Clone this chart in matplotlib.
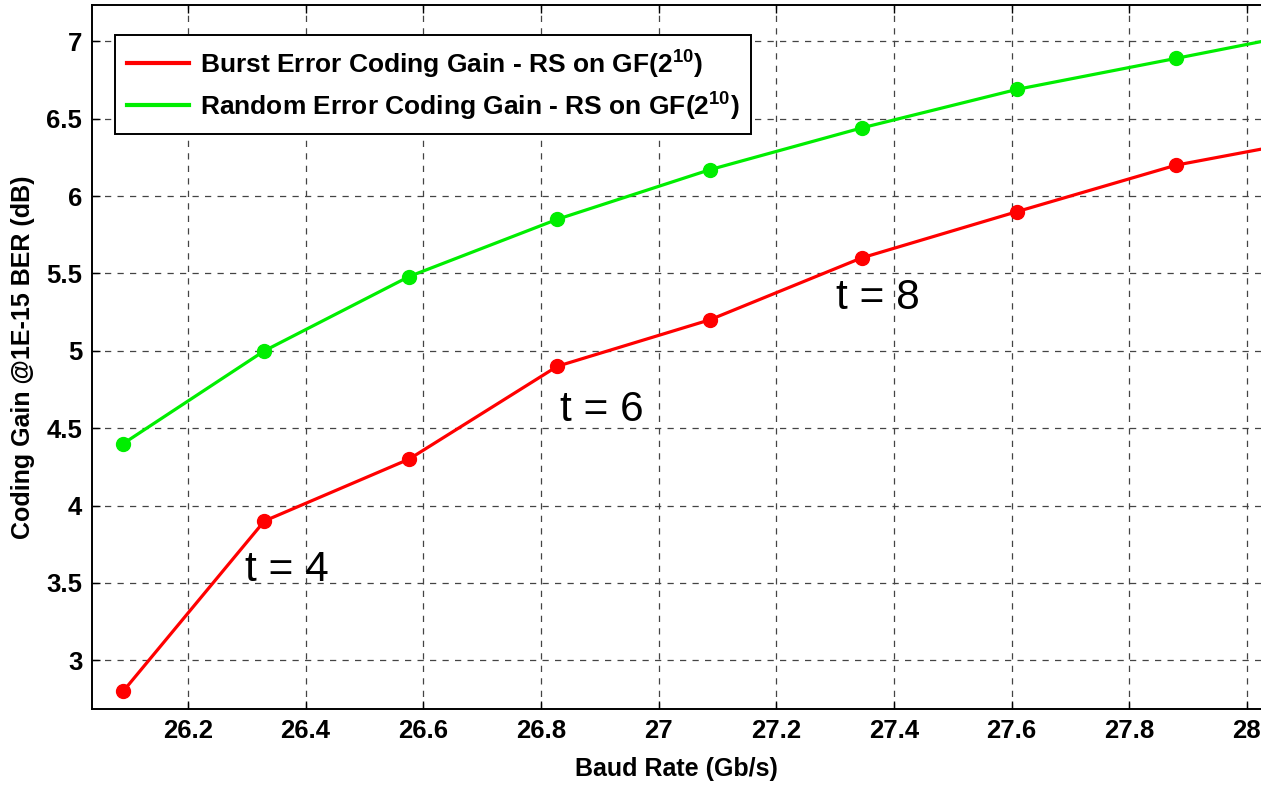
import matplotlib
matplotlib.use('Agg')
import matplotlib.pyplot as plt
from matplotlib.lines import Line2D
from matplotlib.ticker import FuncFormatter

plt.rcParams['font.family'] = ['Liberation Sans', 'DejaVu Sans']
plt.rcParams['mathtext.fontset'] = 'custom'
plt.rcParams['mathtext.rm'] = 'Liberation Sans:bold'
plt.rcParams['mathtext.bf'] = 'Liberation Sans:bold'

# baud rate (Gb/s) for each code
baud_rate = [26.09, 26.33, 26.576, 26.828, 27.087, 27.345, 27.61, 27.88, 28.16]
# coding gain @1E-15 BER (dB)
burst_gain = [2.8, 3.9, 4.3, 4.9, 5.2, 5.6, 5.9, 6.2, 6.4]
random_gain = [4.4, 5.0, 5.48, 5.85, 6.17, 6.44, 6.69, 6.89, 7.1]

t_labels = ['t = 4', 't = 6', 't = 8']
t_pos = [(26.368, 3.58), (26.904, 4.62), (27.373, 5.34)]

fig = plt.figure(figsize=(12.61, 7.86), dpi=100)
ax = fig.add_axes([0.073, 0.098, 0.927, 0.8957])

ax.plot(baud_rate, burst_gain, '-o', color='#ff0000', lw=2.3, ms=10)
ax.plot(baud_rate, random_gain, '-o', color='#00ee00', lw=2.3, ms=10)

for lbl, (x, y) in zip(t_labels, t_pos):
    ax.text(x, y, lbl, fontsize=30.5, ha='center', va='center')

ax.set_xlim(26.037, 28.024)
ax.set_ylim(2.685, 7.235)
ax.set_xticks([26.2, 26.4, 26.6, 26.8, 27, 27.2, 27.4, 27.6, 27.8, 28])
ax.set_yticks([3, 3.5, 4, 4.5, 5, 5.5, 6, 6.5, 7])
ax.xaxis.set_major_formatter(FuncFormatter(lambda v, p: f'{v:g}'))
ax.yaxis.set_major_formatter(FuncFormatter(lambda v, p: f'{v:g}'))
ax.tick_params(direction='in', top=True, right=False, labelsize=18.5, length=6, width=1, pad=7)
for lab in ax.get_xticklabels() + ax.get_yticklabels():
    lab.set_fontweight('bold')
ax.grid(True, ls=(0, (5, 5)), color='#444444', lw=0.9)
ax.spines['right'].set_visible(False)
for s in ['left', 'bottom', 'top']:
    ax.spines[s].set_linewidth(1.4)

ax.set_xlabel('Baud Rate (Gb/s)', fontsize=18, fontweight='bold', labelpad=10)
ax.set_ylabel('Coding Gain @1E-15 BER (dB)', fontsize=18, fontweight='bold', labelpad=8)

handles = [Line2D([], [], color='#ff0000', lw=3),
           Line2D([], [], color='#00ee00', lw=3)]
labels = [r'Burst Error Coding Gain - RS on GF(2$^{10}$)',
          r'Random Error Coding Gain - RS on GF(2$^{10}$)']
leg = ax.legend(handles, labels, loc='upper left', bbox_to_anchor=(0.0197, 0.957),
                borderaxespad=0, fancybox=False, framealpha=1, edgecolor='black',
                prop={'weight': 'bold', 'size': 19}, handlelength=2.37,
                handletextpad=0.38, labelspacing=0.35, borderpad=0.45)
leg.get_frame().set_linewidth(1.4)

fig.savefig('out.png', dpi=100)
